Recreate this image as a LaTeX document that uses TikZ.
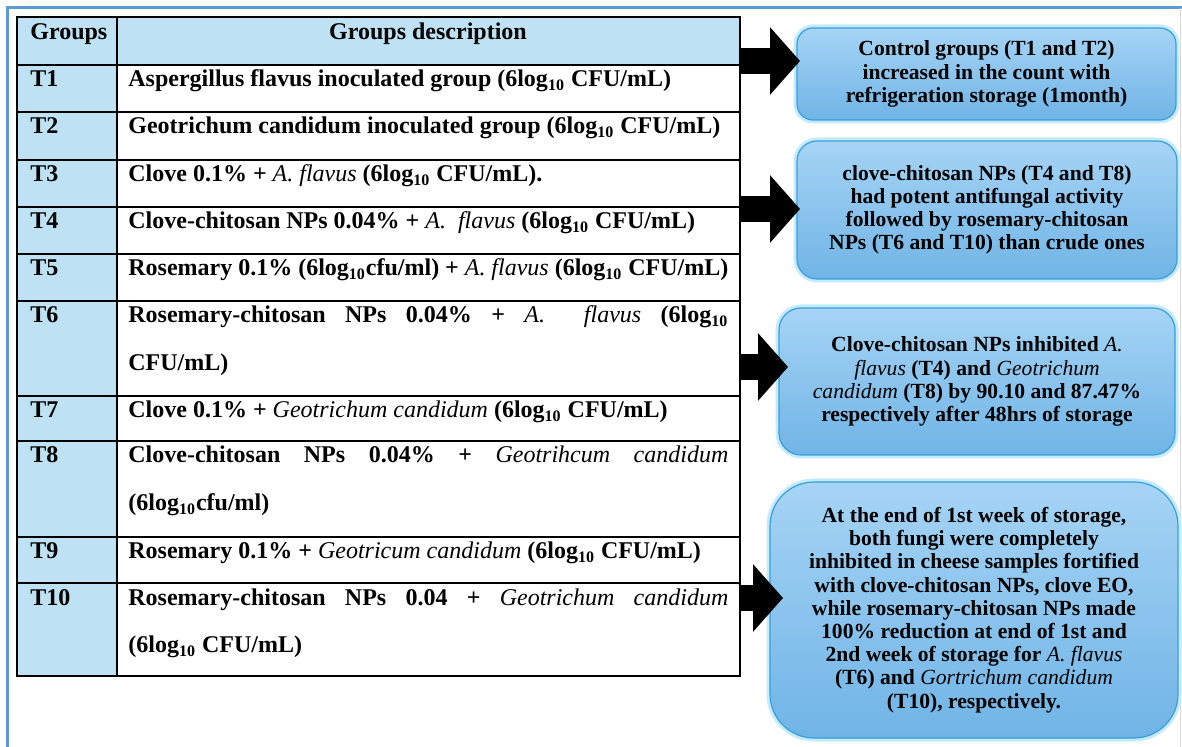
\documentclass[tikz,border=0pt]{standalone}
\usepackage{fontspec}
\setmainfont{Liberation Serif}
\usetikzlibrary{arrows.meta}
\definecolor{framblue}{RGB}{91,155,213}
\definecolor{cellblue}{RGB}{190,226,243}
\definecolor{notetop}{RGB}{166,212,245}
\definecolor{notebot}{RGB}{112,180,230}
\definecolor{noteedge}{RGB}{55,160,220}
\definecolor{noteglow}{RGB}{196,234,252}
\newcommand{\species}[1]{{\mdseries\itshape #1}}
\newcommand{\lgten}{6log\textsubscript{10}}

\begin{document}
\begin{tikzpicture}[x=0.5pt,y=-0.5pt]
    \tikzset{cell/.style={anchor=base west,inner sep=0pt,font={\bfseries\fontsize{12}{24}\selectfont}}}
    \tikzset{desc/.style={cell,text width=300pt,align=justify}}
    \tikzset{note/.style={draw=noteedge,line width=0.6pt,top color=notetop,bottom color=notebot,
        align=center,inner sep=0pt,font={\bfseries\fontsize{10.8}{11.6}\selectfont},
        preaction={draw=noteglow,line width=3.5pt}}}
    \tikzset{bigarrow/.style={line width=13pt,-{Triangle[width=33pt,length=15pt]}}}
    \useasboundingbox (0,0) rectangle (1182,747);
    \draw[framblue,line width=1.5pt] (7,747) -- (7,8) -- (1182,8);
    \draw[black!15,line width=0.5pt] (1180,8) -- (1180,747);
    \fill[cellblue] (17,17) rectangle (740,65);
    \fill[cellblue] (17,65) rectangle (117,676);
    \draw[line width=0.7pt] (17,17) rectangle (740,676);
    \draw[line width=0.7pt] (117,17) -- (117,676);
    \foreach \y in {65,112,160,207,254,301,396,441,537,583}
        \draw[line width=0.7pt] (17,\y) -- (740,\y);
    \node[cell] (hg) at (30,40) {Groups};
    \node[cell,anchor=base] (hd) at (428,40) {Groups description};
    \node[cell] (g1) at (30,87) {T1};
    \node[cell] (g2) at (30,134) {T2};
    \node[cell] (g3) at (30,182) {T3};
    \node[cell] (g4) at (30,229) {T4};
    \node[cell] (g5) at (30,276) {T5};
    \node[cell] (g6) at (30,323) {T6};
    \node[cell] (g7) at (30,418) {T7};
    \node[cell] (g8) at (30,463) {T8};
    \node[cell] (g9) at (30,559) {T9};
    \node[cell] (g10) at (30,605) {T10};
    \node[desc] (d1) at (128,87) {Aspergillus flavus inoculated group (\lgten{} CFU/mL)};
    \node[desc] (d2) at (128,134) {Geotrichum candidum inoculated group (\lgten{} CFU/mL)};
    \node[desc] (d3) at (128,182) {Clove 0.1\% + \species{A. flavus} (\lgten{} CFU/mL).};
    \node[desc] (d4) at (128,229) {Clove-chitosan NPs 0.04\% + \species{A.\ \ flavus} (\lgten{} CFU/mL)};
    \node[desc] (d5) at (128,276) {Rosemary 0.1\% (\lgten cfu/ml) + \species{A. flavus} (\lgten{} CFU/mL)};
    \node[desc] (d6) at (128,323) {Rosemary-chitosan NPs 0.04\% + \species{A.\ \ flavus} (\lgten\linebreak CFU/mL)};
    \node[desc] (d7) at (128,418) {Clove 0.1\% + \species{Geotrichum candidum} (\lgten{} CFU/mL)};
    \node[desc] (d8) at (128,463) {Clove-chitosan NPs 0.04\% + \species{Geotrihcum candidum}\linebreak (\lgten cfu/ml)};
    \node[desc] (d9) at (128,559) {Rosemary 0.1\% + \species{Geotricum candidum} (\lgten{} CFU/mL)};
    \node[desc] (d10) at (128,605) {Rosemary-chitosan NPs 0.04 + \species{Geotrichum candidum}\linebreak (\lgten{} CFU/mL)};
    \node[note,rounded corners=8pt,minimum width=189.5pt,minimum height=46pt] (n1) at (986.5,74)
        {Control groups (T1 and T2)\\increased in the count with\\refrigeration storage (1month)};
    \node[note,rounded corners=10pt,minimum width=190pt,minimum height=69pt] (n2) at (987,210)
        {clove-chitosan NPs (T4 and T8)\\had potent antifungal activity\\followed by rosemary-chitosan\\NPs (T6 and T10) than crude ones};
    \node[note,rounded corners=11pt,minimum width=198pt,minimum height=73.5pt] (n3) at (977,381.5)
        {Clove-chitosan NPs inhibited \species{A.}\\\species{flavus} (T4) and \species{Geotrichum}\\\species{candidum} (T8) by 90.10 and 87.47\%\\respectively after 48hrs of storage};
    \node[note,rounded corners=22pt,minimum width=204pt,minimum height=128pt] (n4) at (974,610)
        {At the end of 1st week of storage,\\both fungi were completely\\inhibited in cheese samples fortified\\with clove-chitosan NPs, clove EO,\\while rosemary-chitosan NPs made\\100\% reduction at end of 1st and\\2nd week of storage for \species{A. flavus}\\(T6) and \species{Gortrichum candidum}\\(T10), respectively.};
    \coordinate (a1s) at (740,61);
    \coordinate (a1e) at (800,61);
    \coordinate (a2s) at (740,209);
    \coordinate (a2e) at (800,209);
    \coordinate (a3s) at (740,367);
    \coordinate (a3e) at (788,367);
    \coordinate (a4s) at (740,598);
    \coordinate (a4e) at (783,598);
    \draw[bigarrow] (a1s) -- (a1e);
    \draw[bigarrow] (a2s) -- (a2e);
    \draw[bigarrow] (a3s) -- (a3e);
    \draw[bigarrow] (a4s) -- (a4e);
\end{tikzpicture}
\end{document}
